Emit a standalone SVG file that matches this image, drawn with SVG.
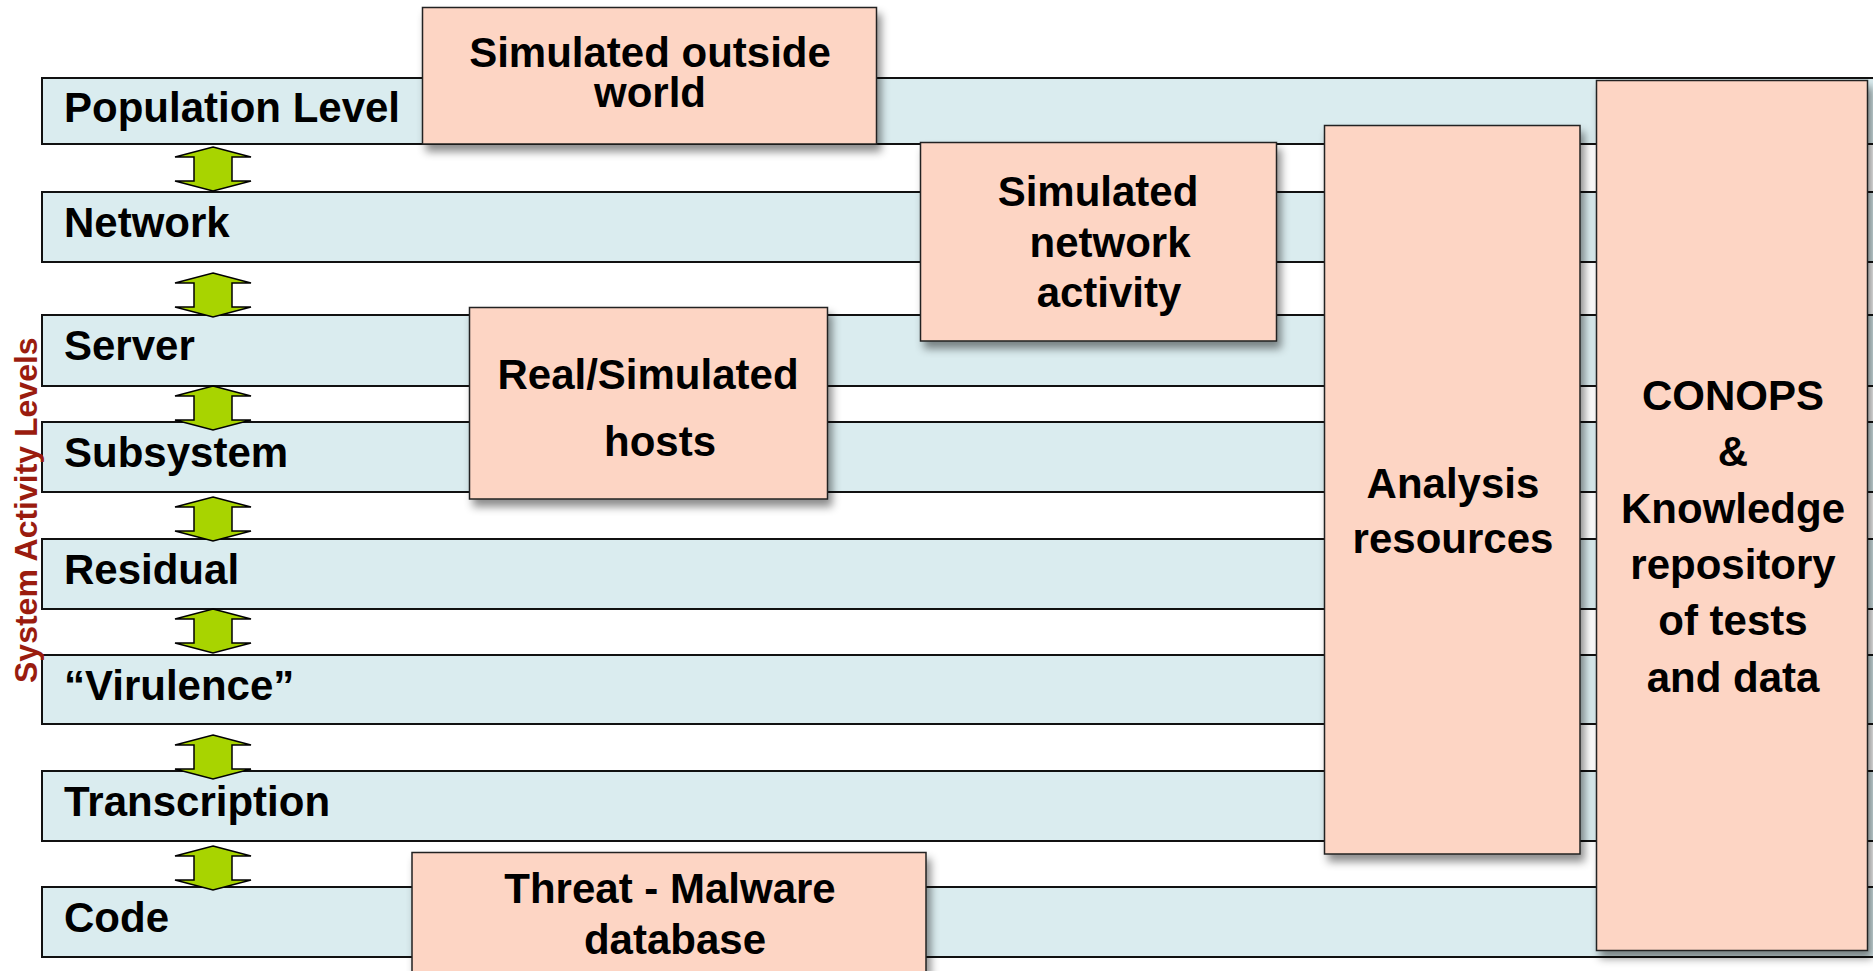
<svg xmlns="http://www.w3.org/2000/svg" width="1873" height="971" viewBox="0 0 1873 971">
<style>
.bar{fill:#daecef;stroke:#111;stroke-width:2}
.box{fill:#fdd5c4;stroke:#222;stroke-width:1.5;filter:url(#sh)}
.lbl{font-family:"Liberation Sans",Arial,sans-serif;font-weight:bold;font-size:42px;fill:#000}
.bt{font-family:"Liberation Sans",Arial,sans-serif;font-weight:bold;font-size:42px;fill:#000;text-anchor:middle}
.arr{fill:#a8d400;stroke:#000;stroke-width:1.5;stroke-linejoin:miter}
.side{font-family:"Liberation Sans",Arial,sans-serif;font-weight:bold;font-size:32px;fill:#9a1c0f}
</style>
<defs>
<filter id="sh" x="-10%" y="-10%" width="130%" height="130%">
<feDropShadow dx="4" dy="7" stdDeviation="4" flood-color="#000" flood-opacity="0.45"/>
</filter>
<path id="ar" d="M0,0 L38,10 L19,10 L19,34 L38,34 L0,44 L-38,34 L-19,34 L-19,10 L-38,10 Z"/>
</defs>
<rect width="1873" height="971" fill="#fff"/>

<g id="levels">
<g id="level-population"><rect class="bar" x="42" y="78" width="1840" height="66"/><text class="lbl" x="64" y="122">Population Level</text></g>
<g id="level-network"><rect class="bar" x="42" y="192" width="1840" height="70"/><text class="lbl" x="64" y="237">Network</text></g>
<g id="level-server"><rect class="bar" x="42" y="315" width="1840" height="71"/><text class="lbl" x="64" y="360">Server</text></g>
<g id="level-subsystem"><rect class="bar" x="42" y="422" width="1840" height="70"/><text class="lbl" x="64" y="467">Subsystem</text></g>
<g id="level-residual"><rect class="bar" x="42" y="539" width="1840" height="70"/><text class="lbl" x="64" y="584">Residual</text></g>
<g id="level-virulence"><rect class="bar" x="42" y="655" width="1840" height="69"/><text class="lbl" x="64" y="700">“Virulence”</text></g>
<g id="level-transcription"><rect class="bar" x="42" y="771" width="1840" height="70"/><text class="lbl" x="64" y="816">Transcription</text></g>
<g id="level-code"><rect class="bar" x="42" y="887" width="1840" height="70"/><text class="lbl" x="64" y="932">Code</text></g>
</g>

<g id="connectors">
<use href="#ar" class="arr" x="213" y="147" transform="translate(0,0)"/>
<use href="#ar" class="arr" x="213" y="273"/>
<use href="#ar" class="arr" x="213" y="386"/>
<use href="#ar" class="arr" x="213" y="497"/>
<use href="#ar" class="arr" x="213" y="609"/>
<use href="#ar" class="arr" x="213" y="735"/>
<use href="#ar" class="arr" x="213" y="846"/>
</g>

<g id="axis-label">
<text class="side" transform="translate(37,683) rotate(-90)">System Activity Levels</text>
</g>

<g id="box-outside-world">
<rect class="box" x="422.5" y="7.5" width="454" height="136.5"/>
<text class="bt" x="650" y="67">Simulated outside</text>
<text class="bt" x="650" y="107">world</text>
</g>

<g id="box-hosts">
<rect class="box" x="469.5" y="307.5" width="358" height="191.5"/>
<text class="bt" x="648" y="389">Real/Simulated</text>
<text class="bt" x="660" y="456">hosts</text>
</g>

<g id="box-network-activity">
<rect class="box" x="920.5" y="142.5" width="356" height="198.5"/>
<text class="bt" x="1098" y="206">Simulated</text>
<text class="bt" x="1110" y="257">network</text>
<text class="bt" x="1109" y="307">activity</text>
</g>

<g id="box-analysis">
<rect class="box" x="1324.5" y="125.5" width="255.5" height="728.5"/>
<text class="bt" x="1453" y="498">Analysis</text>
<text class="bt" x="1453" y="553">resources</text>
</g>

<g id="box-conops">
<rect class="box" x="1596.5" y="80.5" width="271" height="870"/>
<text class="bt" x="1733" y="410">CONOPS</text>
<text class="bt" x="1733" y="466">&amp;</text>
<text class="bt" x="1733" y="523">Knowledge</text>
<text class="bt" x="1733" y="579">repository</text>
<text class="bt" x="1733" y="635">of tests</text>
<text class="bt" x="1733" y="692">and data</text>
</g>

<g id="box-threat">
<rect class="box" x="412" y="852.5" width="514" height="130"/>
<text class="bt" x="670" y="903">Threat - Malware</text>
<text class="bt" x="675" y="954">database</text>
</g>
</svg>
